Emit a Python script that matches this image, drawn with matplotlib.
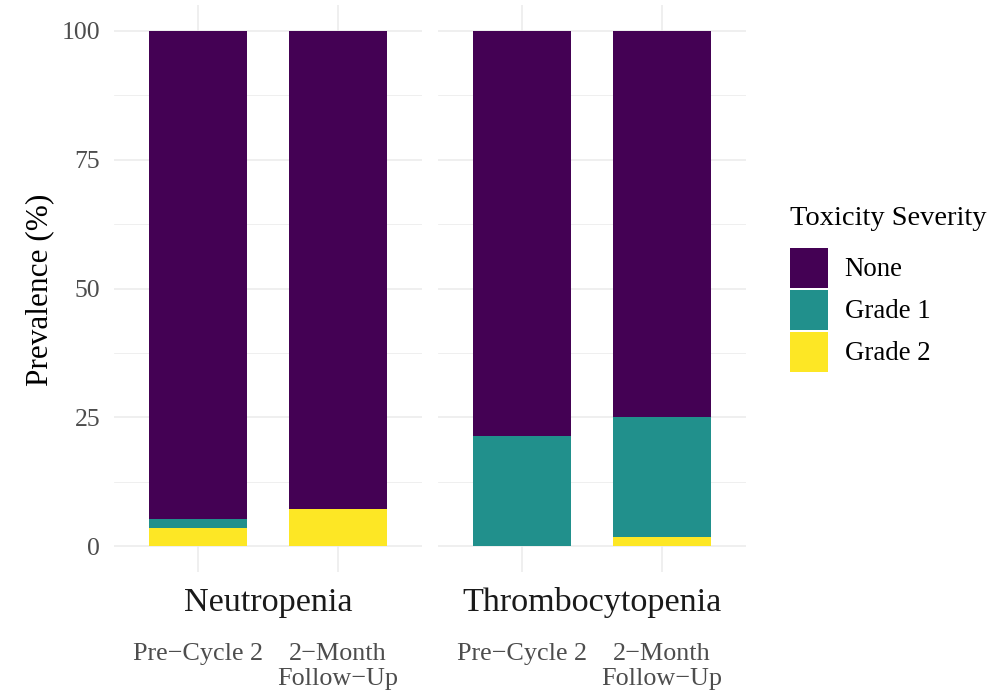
import numpy as np
import matplotlib
matplotlib.use("Agg")
import matplotlib.pyplot as plt
from matplotlib.patches import Patch

plt.rcParams['font.family'] = ['Liberation Serif', 'DejaVu Serif']

# data (percent)
toxicities = ["Neutropenia", "Thrombocytopenia"]
timepoints = ["Pre\u2212Cycle 2", "2\u2212Month\nFollow\u2212Up"]
severities = ["None", "Grade 1", "Grade 2"]
colors = {"None": "#440154", "Grade 1": "#21908C", "Grade 2": "#FDE725"}

neutro_none = [94.64, 92.86]
neutro_g1 = [1.79, 0.0]
neutro_g2 = [3.57, 7.14]

thrombo_none = [78.57, 75.0]
thrombo_g1 = [21.43, 23.21]
thrombo_g2 = [0.0, 1.79]

panels = {
    "Neutropenia": {"None": neutro_none, "Grade 1": neutro_g1, "Grade 2": neutro_g2},
    "Thrombocytopenia": {"None": thrombo_none, "Grade 1": thrombo_g1, "Grade 2": thrombo_g2},
}

W, H = 991, 699
fig = plt.figure(figsize=(W / 100, H / 100), dpi=100)

grid_col = "#EBEBEB"
tick_col = "#4D4D4D"

ax_top, ax_bot = 5, 572
panel_x = [(114, 422), (438, 746)]

axes = []
for i, tox in enumerate(toxicities):
    x0, x1 = panel_x[i]
    ax = fig.add_axes([x0 / W, 1 - ax_bot / H, (x1 - x0) / W, (ax_bot - ax_top) / H])
    axes.append(ax)
    x = np.arange(len(timepoints))
    bottom = np.zeros(len(timepoints))
    # stack: Grade 2 at the bottom, then Grade 1, None on top
    for sev in ["Grade 2", "Grade 1", "None"]:
        vals = np.array(panels[tox][sev])
        ax.bar(x, vals, width=0.7, bottom=bottom, color=colors[sev], linewidth=0, zorder=3)
        bottom += vals
    ax.set_xlim(-0.6, 1.6)
    ax.set_ylim(-5, 105)
    ax.set_yticks([0, 25, 50, 75, 100])
    ax.set_yticks([12.5, 37.5, 62.5, 87.5], minor=True)
    ax.set_xticks(x)
    ax.set_xticklabels(timepoints, fontsize=18.8, color=tick_col, linespacing=1.2)
    ax.tick_params(axis='x', length=0, pad=51)
    ax.tick_params(axis='y', which='both', length=0, pad=10, labelsize=18.5, labelcolor=tick_col)
    ax.grid(True, which='major', color=grid_col, linewidth=1.1, zorder=0)
    ax.grid(True, which='minor', axis='y', color=grid_col, linewidth=0.55, zorder=0)
    ax.set_axisbelow(True)
    for s in ax.spines.values():
        s.set_visible(False)
    if i > 0:
        ax.tick_params(axis='y', labelleft=False)
    # facet strip below the panel
    fig.text((x0 + x1) / 2 / W, 1 - 603 / H, tox, ha='center', va='center',
             fontsize=24.6, color="#1A1A1A")

fig.text(40 / W, 1 - 290 / H, "Prevalence (%)", rotation=90, ha='center', va='center',
         fontsize=22.5)

handles = [Patch(facecolor=colors[s], edgecolor='none') for s in severities]
leg = fig.legend(handles, severities, loc='upper left', bbox_to_anchor=(790 / W, 1 - 206 / H),
                 frameon=False, title="Toxicity Severity", title_fontsize=20.5, fontsize=19.4,
                 handlelength=1.41, handleheight=1.9, labelspacing=0.08, handletextpad=0.62,
                 borderpad=0, borderaxespad=0, alignment='left')
# more room between the legend title and the keys
leg._legend_box.sep = 12

fig.savefig("out.png", dpi=100)
